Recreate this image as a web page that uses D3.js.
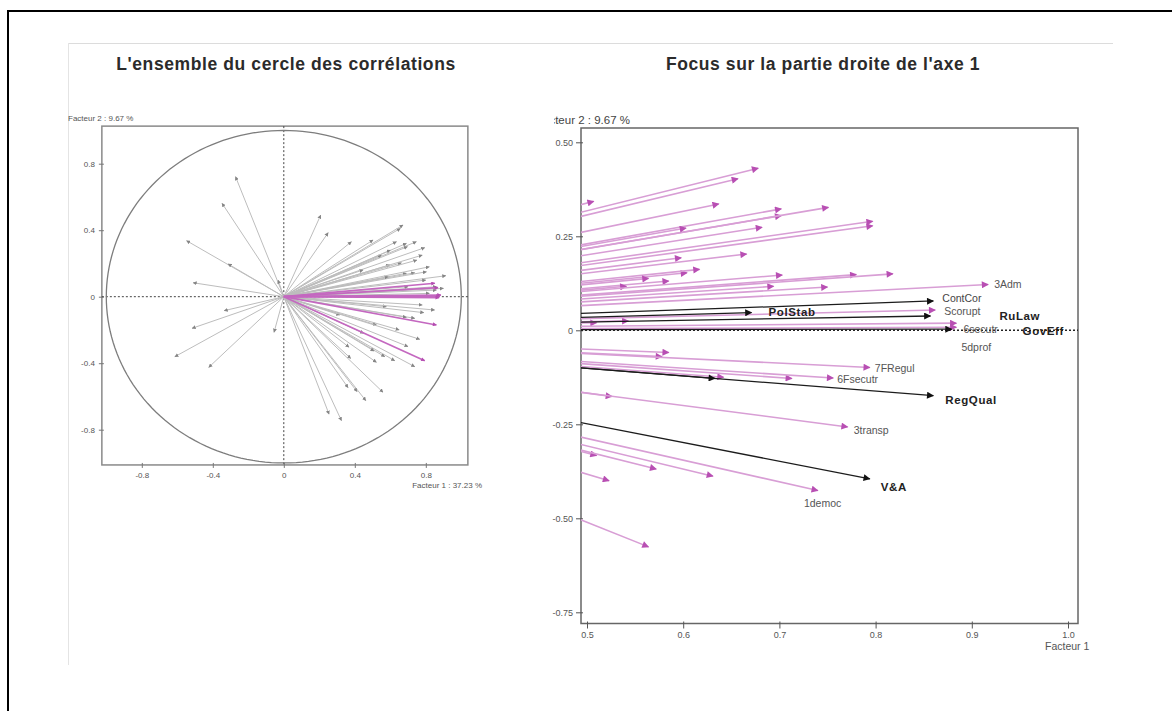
<!DOCTYPE html>
<html>
<head>
<meta charset="utf-8">
<script src="https://cdn.jsdelivr.net/npm/d3@7"></script>
<style>
  body { margin: 0; background: #fff; }
  svg { display: block; }
  text { font-family: "Liberation Sans", Arial, sans-serif; }
</style>
</head>
<body>
<svg id="chart" width="1172" height="711"></svg>
<script>
// ---------- Data ----------
// Correlation circle: variable coordinates on (Facteur 1, Facteur 2)
const leftGreyVectors = [
  [-0.272, 0.722], [-0.348, 0.562], [-0.548, 0.337], [-0.314, 0.197], [-0.511, 0.084], [-0.032, 0.100],
  [-0.336, -0.084], [-0.517, -0.190], [-0.614, -0.361], [-0.423, -0.425], [-0.055, -0.214],
  [0.208, 0.491], [0.250, 0.385], [0.381, 0.331], [0.503, 0.341], [0.657, 0.411], [0.672, 0.431],
  [0.635, 0.331], [0.691, 0.321], [0.747, 0.331], [0.697, 0.301], [0.794, 0.295], [0.597, 0.191],
  [0.663, 0.204], [0.691, 0.141], [0.738, 0.144], [0.804, 0.150], [0.913, 0.126], [0.447, 0.161],
  [0.588, 0.120], [0.860, 0.060], [0.860, 0.040], [0.550, 0.250], [0.750, 0.220], [0.800, 0.100],
  [0.700, 0.060], [0.820, 0.020], [0.600, 0.280], [0.780, 0.250], [0.820, 0.180], [0.900, 0.050],
  [0.578, -0.060], [0.316, -0.110], [0.789, -0.096], [0.738, -0.130], [0.691, -0.124], [0.522, -0.170],
  [0.766, -0.256], [0.738, -0.421], [0.625, -0.385], [0.569, -0.361], [0.522, -0.395], [0.509, -0.327],
  [0.368, -0.304], [0.377, -0.371], [0.559, -0.575], [0.462, -0.625], [0.413, -0.571], [0.362, -0.547],
  [0.325, -0.746], [0.255, -0.707], [0.780, -0.050], [0.850, -0.080], [0.650, -0.200], [0.450, -0.220],
  [0.700, -0.300]
];
const leftMagentaVectors = [
  [0.851, 0.081], [0.869, 0.054], [0.885, 0.010], [0.880, 0.004], [0.875, -0.005],
  [0.860, -0.170], [0.794, -0.385]
];

// Zoom on the right part of axis 1
const rightMagentaVectors = [
  [0.678, 0.431], [0.657, 0.403], [0.507, 0.343], [0.637, 0.336], [0.702, 0.323], [0.702, 0.305],
  [0.751, 0.327], [0.603, 0.272], [0.682, 0.274], [0.797, 0.290], [0.797, 0.278], [0.598, 0.193],
  [0.666, 0.203], [0.604, 0.153], [0.617, 0.162], [0.564, 0.138], [0.585, 0.131], [0.541, 0.117],
  [0.703, 0.147], [0.780, 0.148], [0.694, 0.117], [0.750, 0.115], [0.818, 0.150], [0.510, 0.020],
  [0.543, 0.025], [0.585, -0.059], [0.578, -0.070], [0.642, -0.125], [0.713, -0.128], [0.526, -0.176],
  [0.510, -0.333], [0.572, -0.369], [0.631, -0.388], [0.523, -0.400], [0.564, -0.576]
];
const rightMagentaNames = ["3Adm", "Scorupt", "6secutr", "5dprof", "7FRegul", "6Fsecutr", "3transp", "1democ"];
const rightMagentaX     = [0.917, 0.862, 0.884, 0.884, 0.794, 0.756, 0.771, 0.740];
const rightMagentaY     = [0.122, 0.054, 0.019, 0.008, -0.099, -0.127, -0.257, -0.426];

const rightBlackNames = ["ContCor", "RuLaw", "GovEff", "PolStab", "RegQual", "V&A", ""];
const rightBlackX     = [0.860, 0.857, 0.879, 0.671, 0.860, 0.794, 0.633];
const rightBlackY     = [0.078, 0.038, 0.003, 0.047, -0.174, -0.395, -0.128];

// Axis ticks
const leftTicks = [-0.8, -0.4, 0, 0.4, 0.8];
const leftTickLabels = ["-0.8", "-0.4", "0", "0.4", "0.8"];
const rightXTicks = [0.5, 0.6, 0.7, 0.8, 0.9, 1.0];
const rightXTickLabels = ["0.5", "0.6", "0.7", "0.8", "0.9", "1.0"];
const rightYTicks = [0.5, 0.25, 0, -0.25, -0.5, -0.75];
const rightYTickLabels = ["0.50", "0.25", "0", "-0.25", "-0.50", "-0.75"];

const titles = ["L'ensemble du cercle des corrélations", "Focus sur la partie droite de l'axe 1"];
const axisTitles = ["Facteur 1 : 37.23 %", "Facteur 2 : 9.67 %", "Facteur 1"];

// ---------- Drawing ----------
const svg = d3.select("#chart");
const defs = svg.append("defs");

function marker(id, color, w, h) {
  defs.append("marker")
    .attr("id", id).attr("viewBox", "0 0 10 10")
    .attr("refX", 9).attr("refY", 5)
    .attr("markerWidth", w).attr("markerHeight", h)
    .attr("markerUnits", "userSpaceOnUse").attr("orient", "auto")
    .append("path").attr("d", "M0,0L10,5L0,10Z").attr("fill", color);
}
marker("tipGrey", "#858585", 4, 4);
marker("tipMagL", "#b44cb0", 5, 4);
marker("tipMag", "#b84fb3", 8, 7);
marker("tipBlack", "#111", 9, 7);

// page frame and separators
svg.append("path").attr("d", "M8,711V11H1172").attr("fill", "none").attr("stroke", "#000").attr("stroke-width", 2);
svg.append("line").attr("x1", 68).attr("x2", 1113).attr("y1", 43.5).attr("y2", 43.5).attr("stroke", "#dcdcdc");
svg.append("line").attr("x1", 68.5).attr("x2", 68.5).attr("y1", 43).attr("y2", 665).attr("stroke", "#e4e4e4");

// titles
svg.append("text").attr("x", 286).attr("y", 70).attr("text-anchor", "middle")
  .attr("font-size", 17.5).attr("font-weight", "bold").attr("letter-spacing", 0.6)
  .attr("fill", "#2b2b2b").text(titles[0]);
svg.append("text").attr("x", 823).attr("y", 70).attr("text-anchor", "middle")
  .attr("font-size", 17.5).attr("font-weight", "bold").attr("letter-spacing", 0.6)
  .attr("fill", "#2b2b2b").text(titles[1]);

// ===== Left panel: full correlation circle =====
const xL = d3.scaleLinear().domain([-0.8, 0.8]).range([141.8, 425.8]);
const yL = d3.scaleLinear().domain([-0.8, 0.8]).range([429.7, 163.7]);
const L = svg.append("g");
const lx0 = xL(-1.025), lx1 = xL(1.037), ly0 = yL(1.026), ly1 = yL(-1.012);

L.append("rect").attr("x", lx0).attr("y", ly0).attr("width", lx1 - lx0).attr("height", ly1 - ly0)
  .attr("fill", "none").attr("stroke", "#8a8a8a").attr("stroke-width", 1.5);

const yAxisL = d3.axisLeft(yL).tickValues(leftTicks).tickSize(5).tickPadding(4)
  .tickFormat((d, i) => leftTickLabels[i]);
const gyL = L.append("g").attr("transform", `translate(${lx0 + 2},0)`).call(yAxisL);
const xAxisL = d3.axisBottom(xL).tickValues(leftTicks).tickSize(5).tickPadding(4)
  .tickFormat((d, i) => leftTickLabels[i]);
const gxL = L.append("g").attr("transform", `translate(0,${ly1 - 2})`).call(xAxisL);
[gyL, gxL].forEach(g => {
  g.select(".domain").remove();
  g.selectAll(".tick line").attr("stroke", "#777");
  g.selectAll(".tick text").attr("fill", "#555").attr("font-size", 8)
    .attr("font-family", "'Liberation Sans', Arial, sans-serif");
});

// dotted axes through origin
L.append("line").attr("x1", lx0).attr("x2", lx1).attr("y1", yL(0)).attr("y2", yL(0))
  .attr("stroke", "#444").attr("stroke-dasharray", "2,2");
L.append("line").attr("x1", xL(0)).attr("x2", xL(0)).attr("y1", ly0).attr("y2", ly1)
  .attr("stroke", "#444").attr("stroke-dasharray", "2,2");

// unit circle
const circlePts = d3.range(0, 361, 2).map(a => [Math.cos(a * Math.PI / 180), Math.sin(a * Math.PI / 180)]);
L.append("path").datum(circlePts)
  .attr("d", d3.line().x(d => xL(d[0])).y(d => yL(d[1])))
  .attr("fill", "none").attr("stroke", "#7d7d7d").attr("stroke-width", 1.3);

L.append("g").selectAll("line").data(leftGreyVectors).join("line")
  .attr("x1", xL(0)).attr("y1", yL(0))
  .attr("x2", d => xL(d[0])).attr("y2", d => yL(d[1]))
  .attr("stroke", "#bdbdbd").attr("stroke-width", 1)
  .attr("marker-end", "url(#tipGrey)");
L.append("g").selectAll("line").data(leftMagentaVectors).join("line")
  .attr("x1", xL(0)).attr("y1", yL(0))
  .attr("x2", d => xL(d[0])).attr("y2", d => yL(d[1]))
  .attr("stroke", "#c468c0").attr("stroke-width", 1.7)
  .attr("marker-end", "url(#tipMagL)");

L.append("text").attr("x", 68).attr("y", 121).attr("font-size", 8).attr("fill", "#555").text(axisTitles[1]);
L.append("text").attr("x", 482).attr("y", 488).attr("text-anchor", "end")
  .attr("font-size", 8).attr("fill", "#555").text(axisTitles[0]);

// ===== Right panel: zoom on Facteur 1 > 0.5 =====
const xR = d3.scaleLinear().domain([0.5, 1.0]).range([587, 1068]);
const yR = d3.scaleLinear().domain([-0.75, 0.5]).range([612.3, 142.3]);
const R = svg.append("g");
const rx0 = 581, rx1 = 1078, ry0 = 128, ry1 = 623.5;

defs.append("clipPath").attr("id", "plotR").append("rect")
  .attr("x", rx0).attr("y", ry0).attr("width", rx1 - rx0).attr("height", ry1 - ry0);
defs.append("clipPath").attr("id", "labR").append("rect")
  .attr("x", 554).attr("y", 100).attr("width", 200).attr("height", 30);

R.append("rect").attr("x", rx0).attr("y", ry0).attr("width", rx1 - rx0).attr("height", ry1 - ry0)
  .attr("fill", "none").attr("stroke", "#666").attr("stroke-width", 1.5);

const yAxisR = d3.axisLeft(yR).tickValues(rightYTicks).tickSize(7).tickPadding(3)
  .tickFormat((d, i) => rightYTickLabels[i]);
const gyR = R.append("g").attr("transform", `translate(${rx0 + 2},0)`).call(yAxisR);
const xAxisR = d3.axisBottom(xR).tickValues(rightXTicks).tickSize(7).tickPadding(3)
  .tickFormat((d, i) => rightXTickLabels[i]);
const gxR = R.append("g").attr("transform", `translate(0,${ry1 - 2})`).call(xAxisR);
[gyR, gxR].forEach(g => {
  g.select(".domain").remove();
  g.selectAll(".tick line").attr("stroke", "#555");
  g.selectAll(".tick text").attr("fill", "#555").attr("font-size", 9)
    .attr("font-family", "'Liberation Sans', Arial, sans-serif");
});

const plot = R.append("g").attr("clip-path", "url(#plotR)");
plot.append("line").attr("x1", rx0).attr("x2", rx1).attr("y1", yR(0)).attr("y2", yR(0))
  .attr("stroke", "#222").attr("stroke-width", 1.5).attr("stroke-dasharray", "2,2");

const magAll = rightMagentaVectors.concat(rightMagentaX.map((x, i) => [x, rightMagentaY[i]]));
plot.append("g").selectAll("line").data(magAll).join("line")
  .attr("x1", xR(0)).attr("y1", yR(0))
  .attr("x2", d => xR(d[0])).attr("y2", d => yR(d[1]))
  .attr("stroke", "#d89ed5").attr("stroke-width", 1.6)
  .attr("marker-end", "url(#tipMag)");

const blackAll = rightBlackX.map((x, i) => [x, rightBlackY[i]]);
plot.append("g").selectAll("line").data(blackAll).join("line")
  .attr("x1", xR(0)).attr("y1", yR(0))
  .attr("x2", d => xR(d[0])).attr("y2", d => yR(d[1]))
  .attr("stroke", "#1c1c1c").attr("stroke-width", 1.3)
  .attr("marker-end", "url(#tipBlack)");

// label placement relative to arrow tips (dx, dy in pixels)
const labelOffset = {
  "3Adm": [6, 4], "Scorupt": [9, 5], "6secutr": [7, 10], "5dprof": [5, 24],
  "7FRegul": [5, 4], "6Fsecutr": [4, 5], "3transp": [6, 7], "1democ": [-14, 17],
  "ContCor": [9, 1], "RuLaw": [69, 4], "GovEff": [71, 6], "PolStab": [17, 3],
  "RegQual": [12, 8], "V&A": [11, 12]
};
const labels = R.append("g");
rightMagentaNames.forEach((n, i) => {
  const o = labelOffset[n];
  labels.append("text").attr("x", xR(rightMagentaX[i]) + o[0]).attr("y", yR(rightMagentaY[i]) + o[1])
    .attr("font-size", 10.5).attr("fill", "#555").text(n);
});
rightBlackNames.forEach((n, i) => {
  if (!n) return;
  const o = labelOffset[n];
  const bold = n !== "ContCor";
  labels.append("text").attr("x", xR(rightBlackX[i]) + o[0]).attr("y", yR(rightBlackY[i]) + o[1])
    .attr("font-size", bold ? 11.5 : 10.5).attr("font-weight", bold ? "bold" : "normal")
    .attr("letter-spacing", bold ? 0.6 : 0)
    .attr("fill", bold ? "#222" : "#444").text(n);
});

R.append("text").attr("x", 536).attr("y", 124).attr("font-size", 11.5).attr("fill", "#444")
  .attr("clip-path", "url(#labR)").text(axisTitles[1]);
R.append("text").attr("x", 1045).attr("y", 650).attr("font-size", 10.5).attr("fill", "#555").text(axisTitles[2]);
</script>
</body>
</html>
